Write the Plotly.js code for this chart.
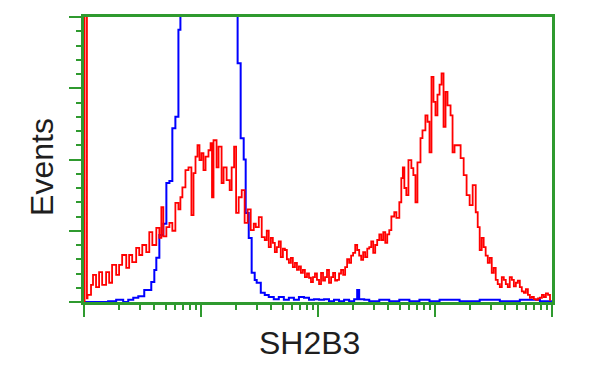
<!DOCTYPE html>
<html>
<head>
<meta charset="utf-8">
<script src="https://cdn.plot.ly/plotly-3.0.1.min.js"></script>
<style>html,body{margin:0;padding:0;background:#fff;}#chart{width:600px;height:375px;}</style>
</head>
<body>
<div id="chart"></div>
<script>
// Fluorescence position in decades (log10 of intensity) and event counts (axis units)
const redDecade = [0.000,0.005,0.025,0.030,0.060,0.077,0.103,0.129,0.155,0.189,0.215,0.240,0.275,0.300,0.326,0.361,0.386,0.412,0.446,0.472,0.498,0.532,0.558,0.584,0.618,0.644,0.661,0.678,0.704,0.730,0.755,0.781,0.807,0.824,0.841,0.867,0.893,0.918,0.936,0.953,0.970,0.987,1.004,1.021,1.039,1.064,1.082,1.094,1.107,1.133,1.150,1.176,1.193,1.219,1.245,1.262,1.283,1.300,1.322,1.348,1.373,1.399,1.425,1.451,1.468,1.494,1.519,1.545,1.562,1.579,1.597,1.614,1.631,1.648,1.665,1.682,1.700,1.717,1.734,1.751,1.768,1.785,1.803,1.820,1.837,1.854,1.871,1.888,1.906,1.923,1.940,1.957,1.974,1.991,2.009,2.026,2.043,2.060,2.077,2.094,2.112,2.129,2.146,2.163,2.180,2.197,2.215,2.232,2.249,2.266,2.283,2.300,2.318,2.335,2.352,2.369,2.386,2.403,2.421,2.438,2.455,2.472,2.489,2.506,2.524,2.541,2.558,2.575,2.592,2.609,2.627,2.652,2.670,2.695,2.712,2.725,2.738,2.755,2.773,2.798,2.815,2.833,2.850,2.876,2.893,2.918,2.936,2.953,2.970,2.987,3.004,3.021,3.039,3.056,3.073,3.090,3.107,3.133,3.150,3.167,3.193,3.219,3.245,3.270,3.296,3.322,3.348,3.365,3.382,3.399,3.416,3.433,3.451,3.468,3.485,3.502,3.519,3.536,3.554,3.571,3.588,3.605,3.622,3.639,3.657,3.674,3.691,3.708,3.725,3.742,3.760,3.777,3.794,3.811,3.828,3.845,3.863,3.880,3.897,3.914,3.931,3.948,3.966,3.983,3.991];
const redCounts = [0,5.00,0.05,0.10,0.24,0.38,0.21,0.42,0.24,0.42,0.27,0.52,0.38,0.52,0.66,0.48,0.66,0.56,0.76,0.66,0.80,0.70,0.98,0.80,1.04,0.90,1.33,0.92,1.05,1.11,1.00,1.39,1.30,1.47,1.61,1.85,1.89,1.22,1.81,2.04,2.20,1.99,2.09,1.85,2.04,2.13,2.23,1.47,2.27,1.89,2.18,1.67,1.89,1.71,1.57,1.89,2.18,1.25,1.47,1.57,1.11,1.30,1.01,1.10,1.05,1.19,0.91,0.87,1.00,0.77,0.90,0.83,0.70,0.77,0.85,0.63,0.75,0.73,0.60,0.55,0.62,0.49,0.55,0.45,0.50,0.41,0.45,0.35,0.40,0.34,0.28,0.35,0.40,0.31,0.25,0.41,0.30,0.35,0.45,0.27,0.35,0.41,0.30,0.31,0.40,0.45,0.38,0.49,0.60,0.55,0.65,0.69,0.80,0.73,0.65,0.59,0.70,0.63,0.75,0.77,0.85,0.69,0.80,0.87,0.95,0.87,0.98,0.83,0.95,1.01,1.20,1.26,1.18,1.40,1.74,1.89,1.60,1.50,1.99,1.88,1.78,1.40,1.96,2.30,2.41,2.62,2.53,2.10,3.16,2.81,2.62,2.91,3.05,3.21,2.46,2.95,2.76,2.62,2.10,2.20,2.20,2.02,1.78,1.50,1.36,1.64,1.26,1.05,0.73,0.90,0.77,0.65,0.55,0.62,0.41,0.48,0.31,0.25,0.21,0.35,0.31,0.25,0.21,0.35,0.31,0.22,0.27,0.30,0.21,0.15,0.13,0.18,0.10,0.06,0.07,0.04,0.03,0.05,0.06,0.10,0.07,0.12,0.10,0.03,0.03];

const blueDecade = [0.000,0.120,0.206,0.275,0.335,0.378,0.421,0.464,0.515,0.575,0.601,0.618,0.644,0.678,0.704,0.730,0.755,0.781,0.807,0.824,0.900,1.000,1.100,1.200,1.290,1.305,1.313,1.339,1.365,1.382,1.408,1.433,1.459,1.476,1.511,1.545,1.579,1.622,1.665,1.708,1.751,1.794,1.837,1.880,1.923,1.966,2.009,2.052,2.094,2.137,2.180,2.223,2.266,2.309,2.335,2.352,2.395,2.438,2.524,2.609,2.695,2.781,2.867,2.953,3.039,3.210,3.382,3.554,3.725,3.897,3.991];
const blueCounts = [0,0,0.01,0.03,0,0.03,0.06,0.08,0.17,0.28,0.45,0.62,0.94,1.10,1.67,1.70,2.44,2.60,3.82,5.00,5.80,6.20,6.00,5.50,4.80,4.50,3.35,2.30,2.00,1.25,0.90,0.41,0.31,0.27,0.13,0.10,0.07,0.04,0.07,0.03,0.06,0.03,0.07,0.06,0.03,0.04,0.03,0.04,0.01,0.03,0.01,0.03,0.01,0.04,0.17,0.04,0.03,0.01,0.03,0.01,0.03,0.01,0.03,0.01,0.03,0.01,0.03,0.01,0.03,0.01,0];

const xTitle = "SH2B3";
const yTitle = "Events";

const green = "#2f9a2f";
const toIntensity = d => d.map(v => Math.pow(10, v));

const traces = [
  {x: toIntensity(blueDecade), y: blueCounts, type: "scatter", mode: "lines",
   line: {color: "#0000ff", width: 2, shape: "hv"}, hoverinfo: "skip"},
  {x: toIntensity(redDecade), y: redCounts, type: "scatter", mode: "lines",
   line: {color: "#ff0000", width: 1.8, shape: "hv"}, hoverinfo: "skip"}
];

const layout = {
  width: 600, height: 375,
  margin: {l: 84, r: 48, t: 17, b: 73},
  paper_bgcolor: "#ffffff", plot_bgcolor: "#ffffff",
  showlegend: false,
  xaxis: {
    type: "log", range: [0, 4], showgrid: false, zeroline: false,
    showline: true, mirror: true, linecolor: green, linewidth: 3,
    ticks: "outside", dtick: 1, ticklen: 12, tickwidth: 2, tickcolor: green,
    showticklabels: false,
    minor: {ticks: "outside", dtick: "D1", ticklen: 5, tickwidth: 2, tickcolor: green, showgrid: false}
  },
  yaxis: {
    range: [0, 4], showgrid: false, zeroline: false,
    showline: true, mirror: true, linecolor: green, linewidth: 3,
    ticks: "outside", dtick: 1, ticklen: 12, tickwidth: 2, tickcolor: green,
    showticklabels: false,
    minor: {ticks: "outside", dtick: 0.2, ticklen: 5, tickwidth: 2, tickcolor: green, showgrid: false}
  },
  annotations: [
    {text: xTitle, xref: "paper", yref: "paper", x: 0.481, y: -0.144, xanchor: "center", yanchor: "middle",
     showarrow: false, font: {family: "Liberation Sans, Arial, sans-serif", size: 32, color: "#1e1e1e"}},
    {text: yTitle, xref: "paper", yref: "paper", x: -0.0897, y: 0.474, xanchor: "center", yanchor: "middle",
     textangle: -90, showarrow: false, font: {family: "Liberation Sans, Arial, sans-serif", size: 32, color: "#1e1e1e"}}
  ]
};

Plotly.newPlot("chart", traces, layout, {staticPlot: true, displayModeBar: false});
</script>
</body>
</html>
